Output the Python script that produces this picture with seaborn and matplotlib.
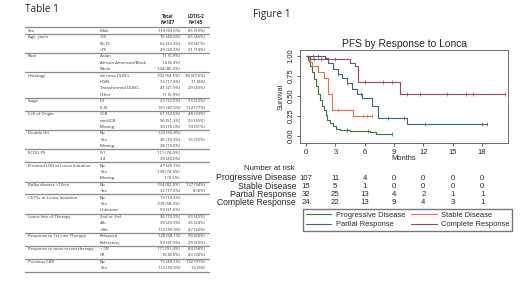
import matplotlib
matplotlib.use("Agg")
import matplotlib.pyplot as plt
import matplotlib.transforms as mtransforms
import numpy as np
import seaborn as sns

# ---- Table 1 data ----
row_variable = [
    "Sex", "Age, years", "", "", "Race", "", "", "Histology", "", "", "",
    "Stage", "", "Cell of Origin", "", "", "Double Hit", "", "", "ECOG PS", "",
    "Elevated LDH at Lonca Initiation", "", "", "Bulky disease >10cm", "",
    "CD19+ at Lonca Initiation", "", "", "Lonca line of Therapy", "", "",
    "Response to 1st Line Therapy", "", "Response to most recent therapy", "",
    "Previous CAR", "",
]
row_level = [
    "Male", "<65", "65-75", ">75", "Asian", "African American/Black", "White",
    "de novo DLBCL", "HGBL", "Transformed DLBCL", "Other",
    "I-II", "III-IV", "GCB", "nonGCB", "Missing", "No", "Yes", "Missing",
    "0-1", "2-4", "No", "Yes", "Missing", "No", "Yes", "No", "Yes", "Unknown",
    "2nd or 3rd", "4th", ">4th", "Relapsed", "Refractory", "< CR", "CR",
    "No", "Yes",
]
row_total = [
    "119 (63.6%)", "76 (40.6%)", "62 (33.2%)", "49 (26.2%)", "11 (5.9%)",
    "14 (8.3%)", "144 (85.2%)", "102 (54.5%)", "33 (17.6%)", "41 (21.9%)",
    "11 (5.9%)", "23 (12.5%)", "161 (87.5%)", "61 (32.6%)", "96 (51.3%)",
    "30 (16.0%)", "123 (65.8%)", "36 (19.3%)", "28 (15.0%)", "111 (74.0%)",
    "39 (26.0%)", "47 (25.1%)", "139 (74.3%)", "1 (0.5%)", "154 (82.8%)",
    "32 (17.2%)", "19 (10.2%)", "109 (58.3%)", "59 (31.6%)", "36 (19.3%)",
    "39 (20.9%)", "112 (59.9%)", "128 (68.1%)", "59 (31.9%)", "171 (91.4%)",
    "16 (8.6%)", "75 (40.1%)", "112 (59.9%)",
]
row_lotis = [
    "85 (59%)", "65 (45%)", "59 (41%)", "21 (14%)", "", "", "",
    "98 (67.6%)", "11 (8%)", "29 (20%)", "", "33 (23%)", "112 (77%)",
    "48 (33%)", "23 (16%)", "74 (51%)", "", "15 (10%)", "", "", "",
    "", "", "", "137 (94%)", "8 (6%)", "", "", "", "63 (43%)", "35 (24%)",
    "47 (32%)", "99 (68%)", "29 (20%)", "84 (58%)", "43 (30%)",
    "132 (91%)", "13 (9%)",
]

# ---- Figure 1 data (Kaplan-Meier steps, months) ----
km_groups = ["Progressive Disease", "Stable Disease", "Partial Response", "Complete Response"]
km_colors = ["#2f7a36", "#e5714c", "#42607f", "#9e4658"]

pd_times = [0, 0.2, 0.4, 0.6, 0.8, 1.0, 1.2, 1.4, 1.6, 1.8, 2.0, 2.2, 2.5, 2.8, 3.1, 3.5, 4.5, 6.5, 7.2, 8.5]
pd_surv = [1, 0.95, 0.88, 0.80, 0.71, 0.62, 0.53, 0.45, 0.38, 0.32, 0.26, 0.20, 0.16, 0.12, 0.09, 0.07, 0.06, 0.05, 0.03, 0.02]
pd_end = 8.8
pd_censor = [4.2, 6.3, 8.8]

sd_times = [0, 0.3, 0.6, 1.2, 1.8, 2.3, 2.7, 4.8]
sd_surv = [1, 0.93, 0.87, 0.80, 0.73, 0.53, 0.33, 0.25]
sd_end = 6.7
sd_censor = [3.3, 5.8, 6.2, 6.7]

pr_times = [0, 1.9, 2.3, 2.8, 3.3, 3.7, 4.2, 4.7, 5.2, 5.7, 6.7, 7.4, 10.3]
pr_surv = [1, 0.97, 0.91, 0.84, 0.78, 0.72, 0.66, 0.59, 0.53, 0.47, 0.38, 0.23, 0.15]
pr_end = 18.5
pr_censor = [0.7, 1.2, 3.3, 4.2, 5.6, 8.4, 10.0, 12.2, 18.0, 18.5]

cr_times = [0, 0.4, 4.5, 5.0, 5.3, 9.6]
cr_surv = [1, 0.96, 0.91, 0.87, 0.68, 0.53]
cr_end = 20.3
cr_censor = [0.8, 1.5, 3.0, 6.0, 7.9, 8.8, 10.3, 11.7, 14.4, 16.4, 17.1, 20.3]

risk_times = [0, 3, 6, 9, 12, 15, 18]
risk_pd = [107, 11, 4, 0, 0, 0, 0]
risk_sd = [15, 5, 1, 0, 0, 0, 0]
risk_pr = [32, 25, 13, 4, 2, 1, 1]
risk_cr = [24, 22, 13, 9, 4, 3, 1]

sns.set_theme(style="white")
plt.rcParams["font.family"] = ["Liberation Sans", "DejaVu Sans"]

W, H = 520, 292
fig = plt.figure(figsize=(W / 100, H / 100), dpi=100)
fig.patch.set_facecolor("white")


def fx(px):
    return px / W


def fy(py):
    return 1 - py / H


# ---- Table 1 ----
tfont = ["Open Sans", "DejaVu Sans"]
fig.text(fx(25), fy(10), "Table 1", fontsize=7.2, family=tfont, va="center", ha="left")
for xc, top, bot in [(168, "Total", "N=187"), (196, "LOTIS-2", "N=145")]:
    fig.text(fx(xc), fy(17), top, fontsize=3.3, family=tfont, ha="center", va="center", weight="bold")
    fig.text(fx(xc), fy(23), bot, fontsize=3.3, family=tfont, ha="center", va="center", weight="bold")

row0, row_h = 30.7, 6.42
line_kw = dict(color="#8a8a8a", linewidth=0.9)
fig.add_artist(plt.Line2D([fx(25), fx(209)], [fy(27.4), fy(27.4)], **line_kw))
for i, (var, lev, tot, lot) in enumerate(zip(row_variable, row_level, row_total, row_lotis)):
    yc = row0 + i * row_h
    if var and i > 0:
        fig.add_artist(plt.Line2D([fx(25), fx(209)], [fy(yc - 3.2), fy(yc - 3.2)], **line_kw))
    fig.text(fx(28), fy(yc), var, fontsize=3.1, family=tfont, va="center", ha="left", color="#333333")
    fig.text(fx(100), fy(yc), lev, fontsize=3.1, family=tfont, va="center", ha="left", color="#333333")
    fig.text(fx(180), fy(yc), tot, fontsize=3.1, family=tfont, va="center", ha="right", color="#333333")
    fig.text(fx(205), fy(yc), lot, fontsize=3.1, family=tfont, va="center", ha="right", color="#333333")
yb = row0 + (len(row_level) - 1) * row_h + 3.4
fig.add_artist(plt.Line2D([fx(25), fx(209)], [fy(yb), fy(yb)], **line_kw))

# ---- Figure 1 ----
fig.text(fx(253), fy(14), "Figure 1", fontsize=7.2, family=tfont, va="center", ha="left")

ax = fig.add_axes([fx(300), fy(143), fx(508) - fx(300), fy(50) - fy(143)])
km_data = [
    (pd_times, pd_surv, pd_end, pd_censor),
    (sd_times, sd_surv, sd_end, sd_censor),
    (pr_times, pr_surv, pr_end, pr_censor),
    (cr_times, cr_surv, cr_end, cr_censor),
]
curve_lines = []
for name, color, (t, s, end, cens) in zip(km_groups, km_colors, km_data):
    tt = list(t) + [end]
    ss = list(s) + [s[-1]]
    sns.lineplot(x=tt, y=ss, drawstyle="steps-post", color=color, linewidth=0.8,
                 estimator=None, ax=ax, legend=False)
    curve_lines.append(ax.get_lines()[-1])
    idx = np.searchsorted(t, cens, side="right") - 1
    ax.plot(cens, np.asarray(s)[idx], linestyle="none", marker="|", markersize=2.2,
            markeredgewidth=0.5, color=color)

ax.set_xlim(-0.61, 20.65)
ax.set_ylim(-0.0875, 1.075)
ax.set_xticks(risk_times)
ax.set_yticks([0, 0.25, 0.5, 0.75, 1.0])
ax.set_yticklabels(["0.00", "0.25", "0.50", "0.75", "1.00"], rotation=90, va="center")
ax.tick_params(axis="both", labelsize=5.4, length=2.5, width=0.5, pad=1.5, colors="#222222",
               bottom=True, left=True)
for sp in ax.spines.values():
    sp.set_color("#555555")
    sp.set_linewidth(0.6)
ax.set_title("PFS by Response to Lonca", fontsize=7.4, pad=2.5)
ax.set_ylabel("Survival", fontsize=5.3, labelpad=2)
ax.set_xlabel("Months", fontsize=5.4, labelpad=-0.5)

# number at risk table
trans = mtransforms.blended_transform_factory(ax.transData, fig.transFigure)
fig.text(fx(295), fy(169), "Number at risk", fontsize=5.6, ha="right", va="center")
risk_rows = [risk_pd, risk_sd, risk_pr, risk_cr]
for k, (name, counts) in enumerate(zip(km_groups, risk_rows)):
    yk = fy(178 + k * 8.3)
    fig.text(fx(296), yk, name, fontsize=6.2, ha="right", va="center")
    for tx, n in zip(risk_times, counts):
        ax.text(tx, yk, str(n), transform=trans, fontsize=5.6, ha="center", va="center", clip_on=False)

# legend rows: PD | SD, PR | CR  (matplotlib fills column-wise)
order = [0, 2, 1, 3]
fig.legend([curve_lines[i] for i in order], [km_groups[i] for i in order], ncol=2,
           loc="upper left", bbox_to_anchor=(fx(303), fy(209)), fontsize=5.4, frameon=True,
           fancybox=False, edgecolor="#555555", handlelength=3.4, handletextpad=0.6,
           columnspacing=0.8, borderpad=0.35, labelspacing=0.3, borderaxespad=0)

fig.savefig("out.png", dpi=100, facecolor="white")
